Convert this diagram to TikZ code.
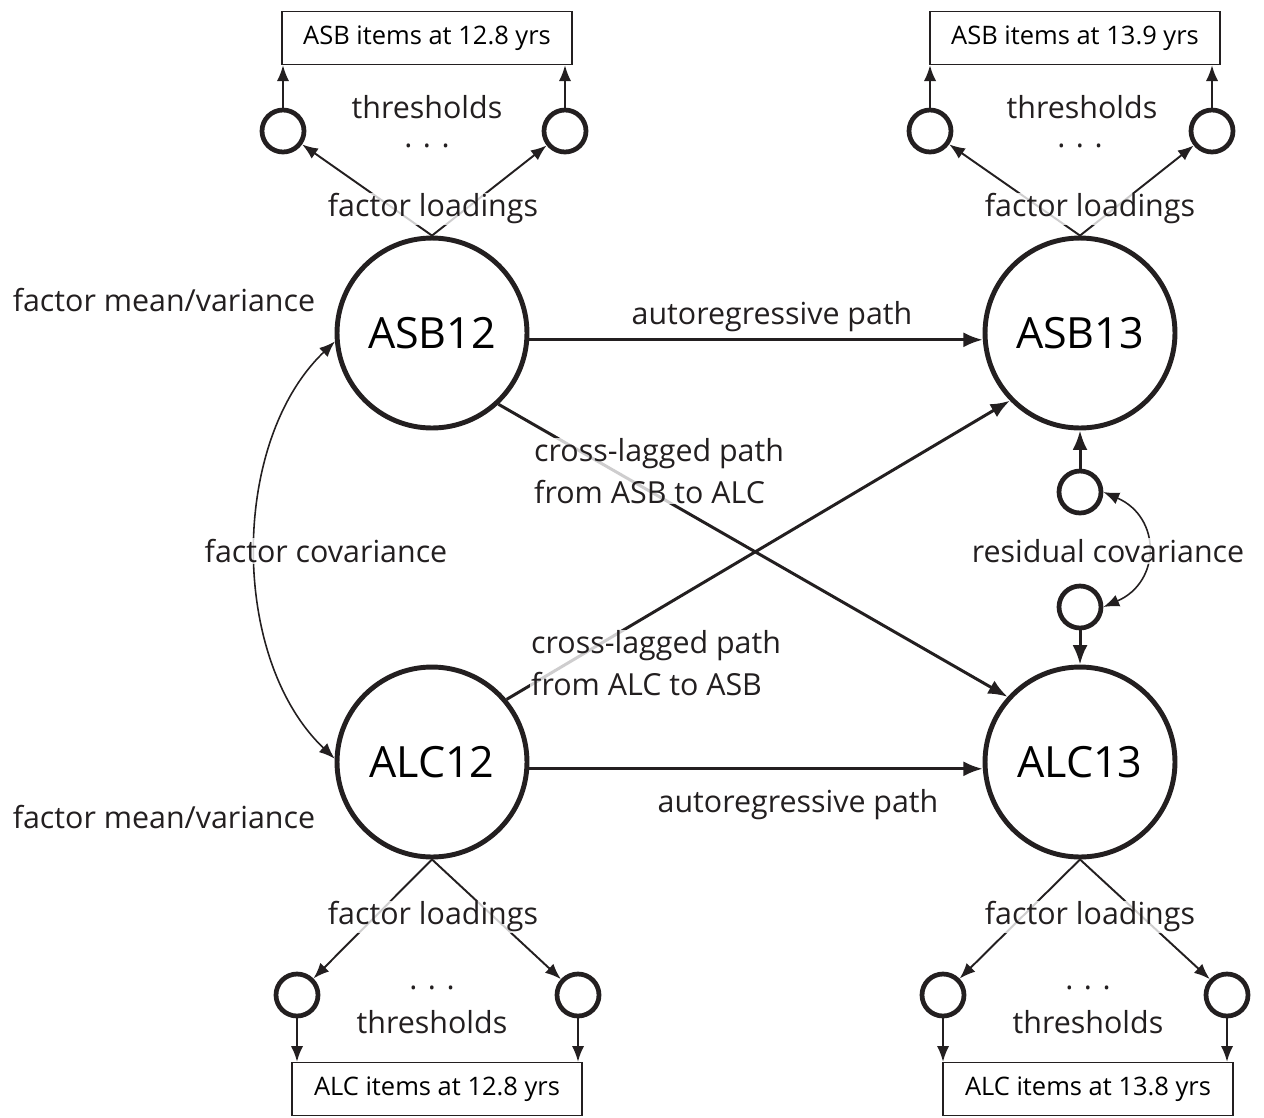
\documentclass[tikz,border=0pt]{standalone}
\usepackage{fontspec}
\setmainfont{Open Sans}
\usetikzlibrary{arrows.meta}
\definecolor{ink}{HTML}{231F20}
\tikzset{
  bigc/.style={circle,draw=ink,line width=2.8pt,minimum size=3.8cm,inner sep=0pt,font=\fontsize{24.5}{28}\selectfont},
  smallc/.style={circle,draw=ink,line width=2.7pt,minimum size=0.84cm,inner sep=0pt},
  itembox/.style={draw=ink,line width=0.8pt,minimum width=5.8cm,minimum height=1.06cm,inner sep=0pt,font=\fontsize{14.5}{17}\selectfont},
  lbl/.style={fill=white,fill opacity=0.78,text opacity=1,inner sep=0.5pt,text=ink,font=\fontsize{17.3}{23.8}\selectfont},
  dots/.style={lbl,inner sep=0pt,text height=3pt,text depth=0pt},
  mainarr/.style={draw=ink,line width=1.7pt,-{Latex[length=11pt,width=8.5pt]}},
  thinarr/.style={draw=ink,line width=1.1pt,-{Latex[length=9pt,width=7pt]}},
  covarr/.style={draw=ink,line width=0.9pt,{Latex[length=9pt,width=7pt]}-{Latex[length=9pt,width=7pt]}}
}
\begin{document}
\begin{tikzpicture}[x=0.02cm,y=-0.02cm]
\useasboundingbox (0,0) rectangle (1264,1117);
% boxes
\node[itembox] (bTL) at (427,38) {ASB items at 12.8 yrs};
\node[itembox] (bTR) at (1075,38) {ASB items at 13.9 yrs};
\node[itembox] (bBL) at (437,1089) {ALC items at 12.8 yrs};
\node[itembox] (bBR) at (1088,1089) {ALC items at 13.8 yrs};
% big circles
\node[bigc] (ASB12) at (432,333) {ASB12\hspace{6pt}};
\node[bigc] (ASB13) at (1080,333) {ASB13};
\node[bigc] (ALC12) at (432,762) {ALC12\hspace{6pt}};
\node[bigc] (ALC13) at (1080,762) {ALC13};
% small threshold circles
\node[smallc] (tl1) at (283,131) {};
\node[smallc] (tl2) at (565,131) {};
\node[smallc] (tr1) at (930,131) {};
\node[smallc] (tr2) at (1212,131) {};
\node[smallc] (bl1) at (297,995) {};
\node[smallc] (bl2) at (578,995) {};
\node[smallc] (br1) at (943,995) {};
\node[smallc] (br2) at (1227,995) {};
% residual circles
\node[smallc] (r1) at (1080,492) {};
\node[smallc] (r2) at (1080,607) {};
% threshold arrows
\foreach \c/\b in {tl1/bTL,tl2/bTL,tr1/bTR,tr2/bTR}{
  \draw[thinarr] (\c.north) -- (\c |- \b.south);
}
\foreach \c/\b in {bl1/bBL,bl2/bBL,br1/bBR,br2/bBR}{
  \draw[thinarr] (\c.south) -- (\c |- \b.north);
}
% loadings
\draw[thinarr] (ASB12.north) -- (tl1);
\draw[thinarr] (ASB12.north) -- (tl2);
\draw[thinarr] (ASB13.north) -- (tr1);
\draw[thinarr] (ASB13.north) -- (tr2);
\draw[thinarr] (ALC12.south) -- (bl1);
\draw[thinarr] (ALC12.south) -- (bl2);
\draw[thinarr] (ALC13.south) -- (br1);
\draw[thinarr] (ALC13.south) -- (br2);
% structural paths
\draw[mainarr] (ASB12.-4) -- (ASB13.184);
\draw[mainarr] (ALC12.-4) -- (ALC13.184);
\draw[mainarr] (ASB12.-47) -- (ALC13.138);
\draw[mainarr] (ALC12.40) -- (ASB13.224);
% residual arrows
\draw[mainarr] (r1) -- (ASB13);
\draw[mainarr] (r2) -- (ALC13);
% covariances
\draw[covarr] (r1.east) .. controls +(58,25) and +(58,-25) .. (r2.east);
\draw[covarr] (ASB12.185) .. controls +(-105,100) and +(-105,-100) .. (ALC12.178);
% labels
\node[lbl] (lft1) at (433,209) {factor loadings};
\node[lbl] (lft2) at (1090,209) {factor loadings};
\node[lbl] (lfb1) at (433,917) {factor loadings};
\node[lbl] (lfb2) at (1090,917) {factor loadings};
\node[lbl] (th1) at (427,107) {thresholds};
\node[lbl] (th2) at (1082,107) {thresholds};
\node[lbl] (th3) at (432,1022) {thresholds};
\node[lbl] (th4) at (1088,1022) {thresholds};
\node[dots] (d1) at (427,145) {. . .};
\node[dots] (d2) at (1080,145) {. . .};
\node[dots] (d3) at (432,987) {. . .};
\node[dots] (d4) at (1088,987) {. . .};
\node[lbl] (mv1) at (164,300) {factor mean/variance};
\node[lbl] (mv2) at (164,817) {factor mean/variance};
\node[lbl] (ar1) at (772,317) {autoregressive path};
\node[lbl] (ar2) at (798,805) {autoregressive path};
\node[lbl,align=left,anchor=west] (cl1) at (533,471) {cross-lagged path\\from ASB to ALC};
\node[lbl,align=left,anchor=west] (cl2) at (530,663) {cross-lagged path\\from ALC to ASB};
\node[lbl] (fc) at (326,551) {factor covariance};
\node[lbl] (rc) at (1108,551) {residual covariance};
\end{tikzpicture}
\end{document}
